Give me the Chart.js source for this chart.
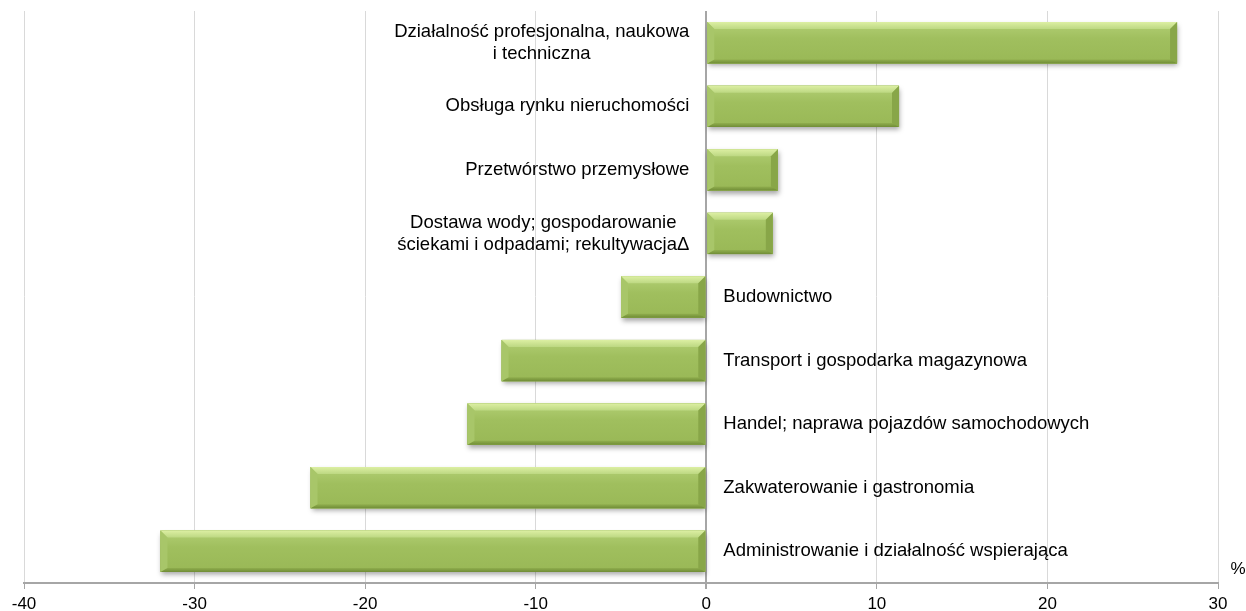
<!DOCTYPE html>
<html>
<head>
<meta charset="utf-8">
<script src="https://cdn.jsdelivr.net/npm/chart.js@4"></script>
<style>
    html, body { margin: 0; padding: 0; background: #fff; }
    #wrap { width: 1246px; height: 611px; }
</style>
</head>
<body>
<div id="wrap"><canvas id="chart"></canvas></div>
<script>
const categories = [
    ["Działalność profesjonalna, naukowa", "i techniczna"],
    ["Obsługa rynku nieruchomości"],
    ["Przetwórstwo przemysłowe"],
    ["Dostawa wody; gospodarowanie", "ściekami i odpadami; rekultywacjaΔ"],
    ["Budownictwo"],
    ["Transport i gospodarka magazynowa"],
    ["Handel; naprawa pojazdów samochodowych"],
    ["Zakwaterowanie i gastronomia"],
    ["Administrowanie i działalność wspierająca"]
];
const values = [27.6, 11.3, 4.2, 3.9, -5.0, -12.0, -14.0, -23.2, -32.0];
const xTicks = [-40, -30, -20, -10, 0, 10, 20, 30];
const unitLabel = "%";

const FONT = "'Liberation Sans', Arial, sans-serif";

function barBox(bar) {
    const p = bar.getProps(["x", "y", "base", "height"], true);
    return {
        left: Math.min(p.x, p.base),
        right: Math.max(p.x, p.base),
        top: p.y - p.height / 2,
        bottom: p.y + p.height / 2
    };
}

function poly(ctx, pts, fill) {
    ctx.beginPath();
    ctx.moveTo(pts[0][0], pts[0][1]);
    for (let i = 1; i < pts.length; i++) ctx.lineTo(pts[i][0], pts[i][1]);
    ctx.closePath();
    ctx.fillStyle = fill;
    ctx.fill();
}

// soft shadow under the bars and bevelled faces on top of them
const bevel = {
    id: "bevel",
    beforeDatasetsDraw(chart) {
        const ctx = chart.ctx;
        ctx.save();
        ctx.shadowColor = "rgba(0,0,0,0.35)";
        ctx.shadowBlur = 5;
        ctx.shadowOffsetX = 1;
        ctx.shadowOffsetY = 3;
        chart.getDatasetMeta(0).data.forEach(bar => {
            const b = barBox(bar);
            ctx.fillStyle = "#8fae4f";
            ctx.fillRect(b.left, b.top, b.right - b.left, b.bottom - b.top);
        });
        ctx.restore();
    },
    afterDatasetsDraw(chart) {
        const ctx = chart.ctx;
        ctx.save();
        chart.getDatasetMeta(0).data.forEach(bar => {
            const { left, right, top, bottom } = barBox(bar);
            const e = 7;
            const face = ctx.createLinearGradient(0, top, 0, bottom);
            face.addColorStop(0, "#b2cf74");
            face.addColorStop(0.4, "#a0bf5e");
            face.addColorStop(1, "#99b856");
            ctx.fillStyle = face;
            ctx.fillRect(left, top, right - left, bottom - top);

            const topG = ctx.createLinearGradient(0, top, 0, top + e);
            topG.addColorStop(0, "#dcefa3");
            topG.addColorStop(1, "#bdd882");
            poly(ctx, [[left, top], [right, top], [right - e, top + e], [left + e, top + e]], topG);

            const botG = ctx.createLinearGradient(0, bottom - 4, 0, bottom);
            botG.addColorStop(0, "#90ae4e");
            botG.addColorStop(1, "#708d36");
            poly(ctx, [[left + 4, bottom - 4], [right - 4, bottom - 4], [right, bottom], [left, bottom]], botG);

            poly(ctx, [[left, top], [left + e, top + e], [left + e, bottom - 4], [left, bottom]], "#a8c669");
            poly(ctx, [[right, top], [right - e, top + e], [right - e, bottom - 4], [right, bottom]], "#88a648");
        });
        ctx.restore();
    }
};

// category names next to the zero line, unit sign at the bottom right
const labels = {
    id: "catLabels",
    afterDraw(chart) {
        const ctx = chart.ctx;
        const xs = chart.scales.x;
        const x0 = xs.getPixelForValue(0);
        const lineH = 22;
        ctx.save();
        ctx.font = "18.5px " + FONT;
        ctx.fillStyle = "#000";
        ctx.textBaseline = "middle";
        chart.getDatasetMeta(0).data.forEach((bar, i) => {
            const lines = categories[i];
            const w = Math.max(...lines.map(l => ctx.measureText(l).width));
            const y0 = bar.y - (lines.length - 1) * lineH / 2;
            const gap = 17;
            const cx = values[i] >= 0 ? x0 - gap - w / 2 : x0 + gap + w / 2;
            ctx.textAlign = "center";
            lines.forEach((l, j) => ctx.fillText(l, cx, y0 + j * lineH));
        });
        ctx.font = "17px " + FONT;
        ctx.fillText(unitLabel, 1238, 569);
        ctx.restore();
    }
};

new Chart(document.getElementById("chart"), {
    type: "bar",
    data: {
        labels: categories,
        datasets: [{
            data: values,
            backgroundColor: "#9bbb59",
            borderWidth: 0,
            barPercentage: 0.65,
            categoryPercentage: 1
        }]
    },
    options: {
        indexAxis: "y",
        responsive: true,
        maintainAspectRatio: false,
        animation: false,
        layout: { padding: { left: 24, right: 28, top: 11, bottom: 0 } },
        scales: {
            x: {
                min: -40,
                max: 30,
                afterBuildTicks: s => { s.ticks = xTicks.map(v => ({ value: v })); },
                afterFit: s => { s.height = 28; },
                ticks: {
                    color: "#000",
                    font: { family: FONT, size: 17 },
                    padding: 5,
                    maxRotation: 0
                },
                grid: {
                    color: c => (c.tick && c.tick.value === 0 ? "#a6a6a6" : "#d9d9d9"),
                    lineWidth: c => (c.tick && c.tick.value === 0 ? 2 : 1),
                    tickColor: "#a6a6a6",
                    tickLength: 6
                },
                border: { color: "#a6a6a6", width: 2 }
            },
            y: {
                display: false,
                offset: true
            }
        },
        plugins: {
            legend: { display: false },
            tooltip: { enabled: false }
        }
    },
    plugins: [bevel, labels]
});
</script>
</body>
</html>
